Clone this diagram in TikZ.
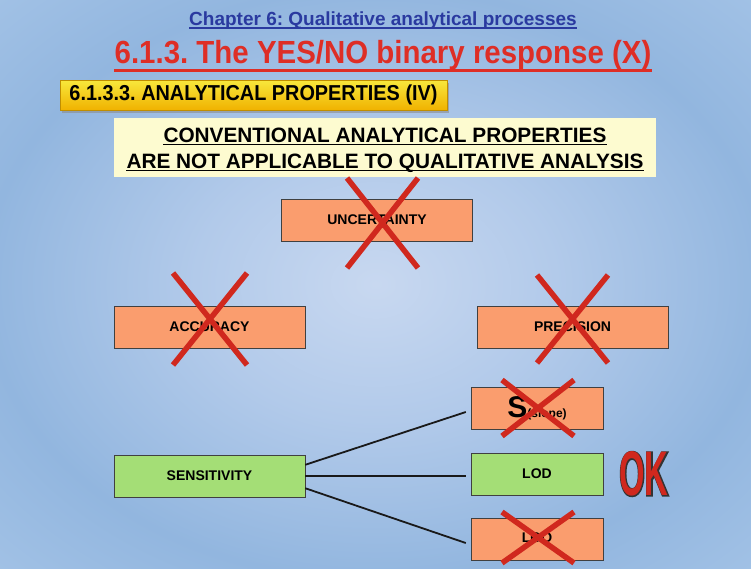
\documentclass[tikz,border=0pt]{standalone}
\usepackage{fontspec}
\setmainfont{Liberation Sans}
\newfontfamily\narrowsf[FakeStretch=0.92]{Liberation Sans}
\newfontfamily\okfont[FakeStretch=0.52]{Liberation Sans}
\newfontfamily\okline[FakeStretch=0.52,FakeBold=3]{Liberation Sans}
\usepackage{xcolor}
\usepackage{tikz}
\usetikzlibrary{positioning, calc, shadows}
\frenchspacing
\definecolor{ChapBlue}{RGB}{42, 58, 160}
\definecolor{TitleRed}{RGB}{222, 46, 38}
\definecolor{CrossRed}{RGB}{208, 40, 30}
\definecolor{PropOrange}{RGB}{250, 157, 110}
\definecolor{PropGreen}{RGB}{164, 222, 118}
\definecolor{NoteCream}{RGB}{253, 251, 208}
\definecolor{HdrTop}{RGB}{248, 232, 60}
\definecolor{HdrBot}{RGB}{240, 178, 0}
\definecolor{bgA}{RGB}{200, 216, 240}
\definecolor{bgB}{RGB}{178, 202, 234}
\definecolor{bgC}{RGB}{146, 182, 223}
\definecolor{bgD}{RGB}{165, 196, 231}
\definecolor{bgE}{RGB}{208, 217, 240}
\definecolor{bgF}{RGB}{238, 226, 244}
\definecolor{bgG}{RGB}{247, 233, 247}
\pgfdeclareradialshading{slidebg}{\pgfpoint{0bp}{0bp}}{color(0bp)=(bgA); color(12bp)=(bgB); color(26bp)=(bgC); color(38bp)=(bgD); color(50bp)=(bgE); color(60bp)=(bgF); color(72bp)=(bgG)}

\begin{document}
\begin{tikzpicture}[x=1pt, y=-1pt,
    prop/.style={draw=black!75, fill=PropOrange, minimum width=191pt, minimum height=42pt, inner sep=0pt, font=\bfseries\fontsize{14}{16}\selectfont},
    subprop/.style={prop, minimum width=132pt},
    cross/.style={CrossRed, line width=5.5pt},
    link/.style={black!90, line width=1.8pt}]
    \useasboundingbox (0,0) rectangle (751,568);
    \shade[shading=slidebg] (0,0) rectangle (751,568);

    % --- Headings ---
    \node[anchor=base, inner sep=0pt, text=ChapBlue, font=\bfseries\fontsize{19}{22}\selectfont] (chap) at (383,25) {Chapter 6: Qualitative analytical processes};
    \draw[ChapBlue, line width=2pt] ([yshift=-3pt]chap.base west) -- ([yshift=-3pt]chap.base east);
    \node[anchor=base, inner sep=0pt, text=TitleRed, font=\narrowsf\bfseries\fontsize{32}{36}\selectfont] (title) at (383,63) {6.1.3. The YES/NO binary response (X)};
    \draw[TitleRed, line width=3pt] ([yshift=-7pt]title.base west) -- ([yshift=-7pt]title.base east);
    \node[draw=HdrBot!80!black, top color=HdrTop, bottom color=HdrBot, minimum width=387pt, minimum height=30pt, inner sep=0pt,
          drop shadow={shadow xshift=2pt, shadow yshift=-3pt, fill=black!45, opacity=.6},
          font=\narrowsf\bfseries\fontsize{21.6}{24}\selectfont] (hdr) at (253.5,95) {6.1.3.3. ANALYTICAL PROPERTIES (IV)};

    % --- Note ---
    \fill[NoteCream] (114,118) rectangle (656,177);
    \node[anchor=base, inner sep=0pt, font=\bfseries\fontsize{20.8}{24}\selectfont] (note1) at (385,142) {CONVENTIONAL ANALYTICAL PROPERTIES};
    \node[anchor=base, inner sep=0pt, font=\bfseries\fontsize{20.8}{24}\selectfont] (note2) at (385,168) {ARE NOT APPLICABLE TO QUALITATIVE ANALYSIS};
    \draw[line width=1.8pt] ([yshift=-2.5pt]note1.base west) -- ([yshift=-2.5pt]note1.base east);
    \draw[line width=1.8pt] ([yshift=-2.5pt]note2.base west) -- ([yshift=-2.5pt]note2.base east);

    % --- Properties ---
    \node[prop] (unc) at (377,220) {UNCERTAINTY};
    \node[prop] (acc) at (209.5,327) {ACCURACY};
    \node[prop] (prec) at (572.5,327) {PRECISION};
    \node[prop, fill=PropGreen] (sens) at (209.5,476) {SENSITIVITY};
    \node[subprop] (slope) at (537,408) {{\fontsize{30}{30}\selectfont S}{\fontsize{12}{13}\selectfont (slope)}};
    \node[subprop, fill=PropGreen] (lod) at (537,474) {LOD};
    \node[subprop] (loq) at (537,539) {LOQ};

    \draw[link] ([yshift=-10pt]sens.north east) -- ([xshift=-5pt,yshift=-4pt]slope.west);
    \draw[link, shorten >=5pt] (sens.east) -- (sens.east -| lod.west);
    \draw[link] ([yshift=9pt]sens.south east) -- ([xshift=-5pt,yshift=-4pt]loq.west);

    % --- Crosses ---
    \draw[cross] (347,178) -- (418,268) (418,178) -- (347,268);
    \draw[cross] (173,273) -- (247,365) (247,273) -- (173,365);
    \draw[cross] (537,275) -- (608,363) (608,275) -- (537,363);
    \draw[cross] (502,380) -- (574,436) (574,380) -- (502,436);
    \draw[cross] (502,512) -- (574,563) (574,512) -- (502,563);

    % --- OK ---
    \node[text=black!80, font=\okline\bfseries\fontsize{63}{63}\selectfont] (okback) at (644,474) {OK};
    \node[text=CrossRed, font=\okfont\bfseries\fontsize{63}{63}\selectfont] (ok) at (644,474) {OK};
\end{tikzpicture}
\end{document}
